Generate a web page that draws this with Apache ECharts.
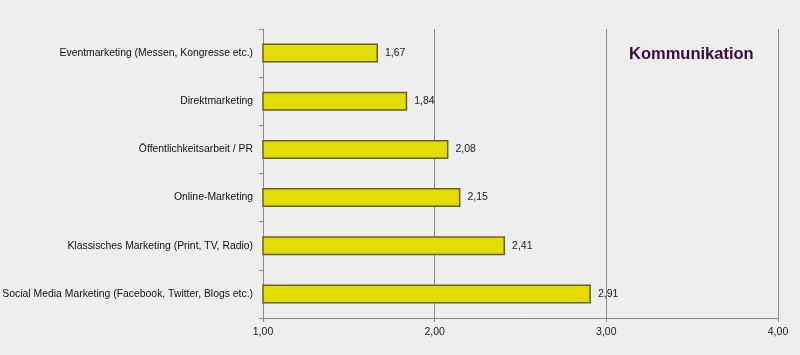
<!DOCTYPE html>
<html><head><meta charset="utf-8">
<script src="https://cdn.jsdelivr.net/npm/echarts@6/dist/echarts.min.js"></script>
<style>html,body{margin:0;padding:0;background:#eeeeee;}#c{width:800px;height:355px;}</style>
</head><body><div id="c"></div>
<script>
var categories = ["Eventmarketing (Messen, Kongresse etc.)","Direktmarketing","Öffentlichkeitsarbeit / PR","Online-Marketing","Klassisches Marketing (Print, TV, Radio)","Social Media Marketing (Facebook, Twitter, Blogs etc.)"];
var values = [1.67, 1.84, 2.08, 2.15, 2.41, 2.91];
var xTicks = [1, 2, 3, 4];
var title = "Kommunikation";
var fmt = function(v){ return v.toFixed(2).replace('.', ','); };
var chart = echarts.init(document.getElementById('c'), null, {renderer:'canvas'});
chart.setOption({
  backgroundColor: '#eeeeee',
  animation: false,
  title: {text: title, left: 624, top: 41,
    textStyle: {fontFamily: 'Liberation Sans, Arial', fontSize: 16.5, fontWeight: 'bold', color: '#3b0b3b'}},
  grid: {left: 263, right: 22, top: 29, bottom: 37, containLabel: false, outerBoundsMode: 'none'},
  xAxis: {type: 'value', min: xTicks[0], max: xTicks[xTicks.length-1], interval: 1,
    axisLine: {show: true, lineStyle: {color: '#8a8a8a', width: 1}},
    axisTick: {show: true, length: 4, lineStyle: {color: '#8a8a8a'}},
    axisLabel: {formatter: fmt, color: '#222', fontFamily: 'Liberation Sans, Arial', fontSize: 10.5, margin: 9},
    splitLine: {show: true, lineStyle: {color: '#8a8a8a', width: 1}}},
  yAxis: {type: 'category', data: categories, inverse: true,
    axisLine: {show: true, lineStyle: {color: '#8a8a8a', width: 1}},
    axisTick: {show: true, length: 4, lineStyle: {color: '#8a8a8a'}},
    axisLabel: {color: '#111', fontFamily: 'Liberation Sans, Arial', fontSize: 10.4, margin: 10},
    splitLine: {show: false}},
  series: [{type: 'bar', data: values, barWidth: 19,
    itemStyle: {color: '#e2dd00', borderColor: '#6b5e1e', borderWidth: 1.5},
    label: {show: true, position: 'right', distance: 7, formatter: function(p){return fmt(p.value);},
      color: '#222', fontFamily: 'Liberation Sans, Arial', fontSize: 10.5}}]
});
</script></body></html>
